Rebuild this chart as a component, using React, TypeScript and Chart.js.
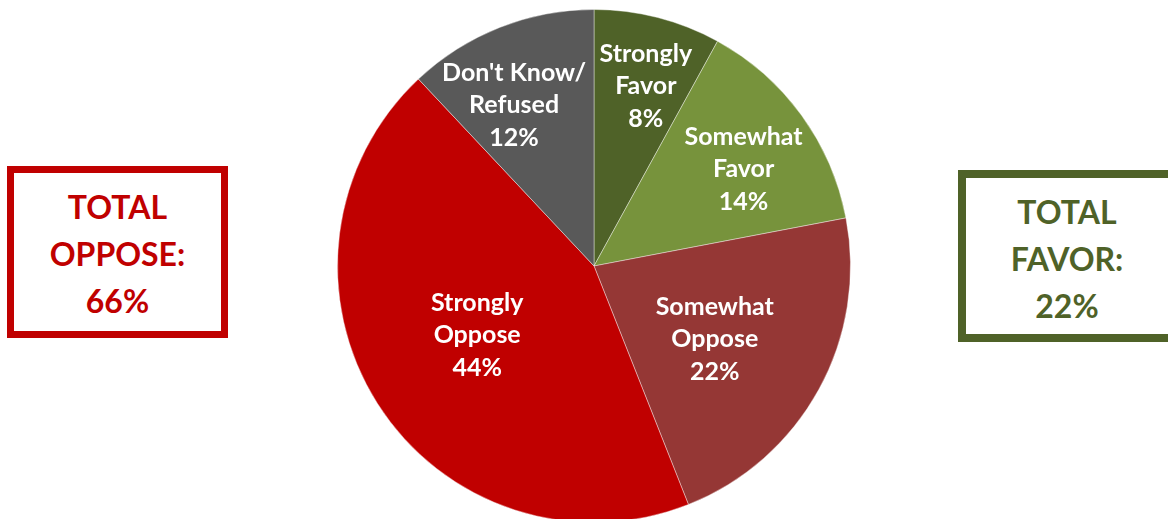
import React, { useEffect, useRef } from "react";
import { Chart, registerables } from "chart.js";

Chart.register(...registerables);

const categories = ["Strongly Favor", "Somewhat Favor", "Somewhat Oppose", "Strongly Oppose", "Don't Know/Refused"];
const labelLines = [
  ["Strongly", "Favor", "8%"],
  ["Somewhat", "Favor", "14%"],
  ["Somewhat", "Oppose", "22%"],
  ["Strongly", "Oppose", "44%"],
  ["Don't Know/", "Refused", "12%"],
];
const values = [8, 14, 22, 44, 12];
const colors = ["#4f6228", "#77933c", "#953735", "#c00000", "#595959"];
// label placement: fraction of radius, and angular nudge (degrees) from slice middle
const labelRadius = [0.733, 0.697, 0.548, 0.527, 0.703];
const labelNudge = [1.6, 2.8, 2.0, 2.2, -4.7];

const FONT = "Lato, 'Open Sans', sans-serif";

const labelPlugin = {
  id: "sliceLabels",
  afterDatasetsDraw(chart: any) {
    const ctx = chart.ctx;
    const meta = chart.getDatasetMeta(0);
    ctx.save();
    ctx.fillStyle = "#ffffff";
    ctx.font = `bold 25px ${FONT}`;
    ctx.textAlign = "center";
    ctx.textBaseline = "middle";
    meta.data.forEach((arc: any, i: number) => {
      const { x, y, startAngle, endAngle, outerRadius } = arc.getProps(
        ["x", "y", "startAngle", "endAngle", "outerRadius"],
        true
      );
      const mid = (startAngle + endAngle) / 2 + (labelNudge[i] * Math.PI) / 180;
      const r = outerRadius * labelRadius[i];
      const cx = x + Math.cos(mid) * r;
      const cy = y + Math.sin(mid) * r;
      const lines = labelLines[i];
      const lh = 32.5;
      lines.forEach((t, k) => {
        ctx.fillText(t, cx, cy + 1 + (k - (lines.length - 1) / 2) * lh);
      });
    });
    ctx.restore();
  },
};

const boxText: React.CSSProperties = {
  position: "absolute",
  boxSizing: "border-box",
  background: "#ffffff",
  display: "flex",
  flexDirection: "column",
  alignItems: "center",
  justifyContent: "center",
  fontFamily: FONT,
  fontWeight: 700,
  fontSize: 32,
  lineHeight: "47px",
  textAlign: "center",
};

export default function App() {
  const ref = useRef<HTMLCanvasElement | null>(null);
  useEffect(() => {
    if (!ref.current) return;
    const chart = new Chart(ref.current, {
      type: "pie",
      data: {
        labels: categories,
        datasets: [
          {
            data: values,
            backgroundColor: colors,
            borderColor: "rgba(255,255,255,0.4)",
            borderWidth: 1,
          },
        ],
      },
      options: {
        responsive: false,
        animation: false,
        layout: { padding: { top: 9, bottom: 17, left: 337, right: 317 } },
        plugins: {
          legend: { display: false },
          tooltip: { enabled: false },
        },
      },
      plugins: [labelPlugin],
    });
    return () => chart.destroy();
  }, []);

  return (
    <div style={{ position: "fixed", left: 0, top: 0, width: 1168, height: 519, overflow: "hidden", background: "#ffffff" }}>
      <canvas ref={ref} width={1168} height={540} style={{ position: "absolute", left: 0, top: 0, width: 1168, height: 540 }} />
      <div style={{ ...boxText, left: 7, top: 166, width: 221, height: 172, border: "7px solid #c00000", color: "#c00000", paddingTop: 3 }}>
        <div>TOTAL</div>
        <div>OPPOSE:</div>
        <div>66%</div>
      </div>
      <div style={{ ...boxText, left: 958, top: 170, width: 225, height: 172, border: "8px solid #4f6228", color: "#4f6228", paddingRight: 7, paddingTop: 5 }}>
        <div>TOTAL</div>
        <div>FAVOR:</div>
        <div>22%</div>
      </div>
    </div>
  );
}
